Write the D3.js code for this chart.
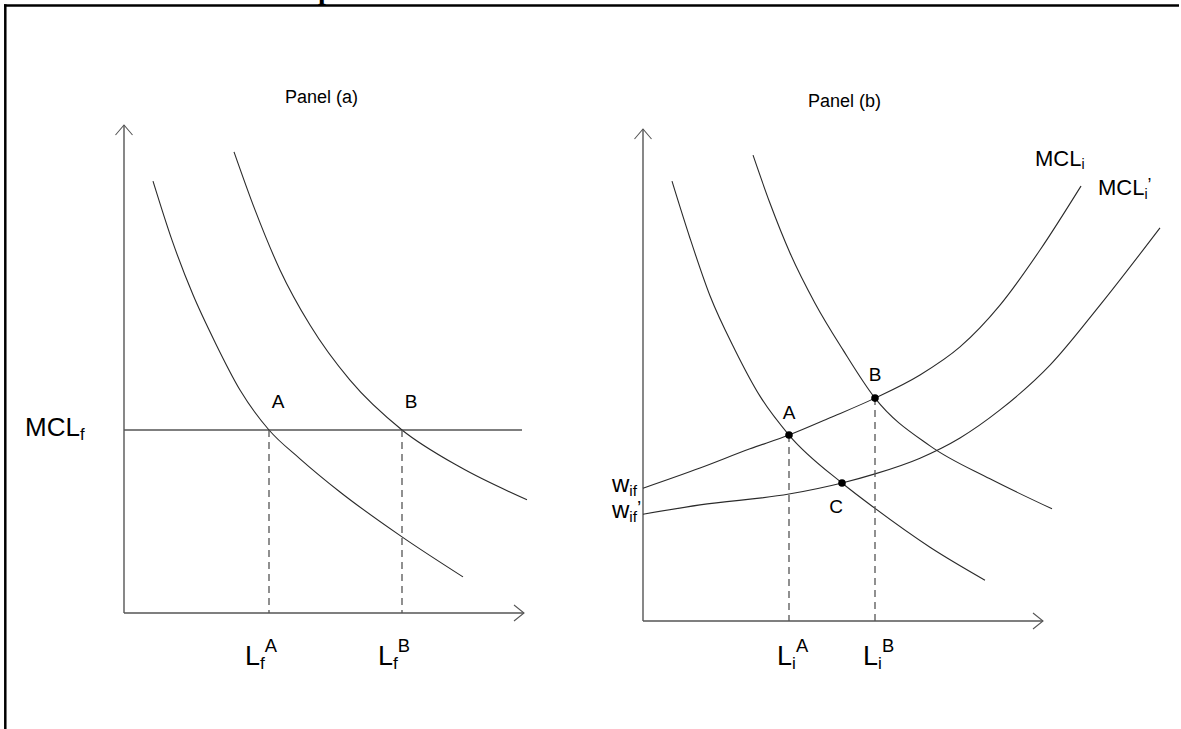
<!DOCTYPE html>
<html>
<head>
<meta charset="utf-8">
<script src="https://cdn.jsdelivr.net/npm/d3@7"></script>
<style>
  html, body { margin: 0; padding: 0; background: #fff; }
  svg { display: block; font-family: "Liberation Sans", Arial, sans-serif; }
</style>
</head>
<body>
<svg id="chart" width="1181" height="729"></svg>
<script>
// ---------------- data (abstract units, 0..100 on each axis) ----------------
const panelTitles = ["Panel (a)", "Panel (b)"];

// Panel (a): two labour-demand curves and a flat marginal cost of labour
const demandA1 = [[7.25,88.5],[12,76.4],[17.25,65.2],[22.75,55.5],[29,45.7],[36.25,37.5],[44,31.6],[54,24.8],[69.5,15.6],[84.75,7.4]];
const demandA2 = [[27.5,94.5],[32.75,82.6],[39,70.3],[46.5,59.0],[56.5,47.7],[69.5,37.5],[84,29.9],[100.75,23.2]];
const mclfLevel = 37.5;
const mclfEndX = 99.5;
const pointsA = [{name:"A", x:36.25}, {name:"B", x:69.5}];
const tickLabelsA = [{base:"L", sub:"f", sup:"A", x:36.25}, {base:"L", sub:"f", sup:"B", x:69.5}];

// Panel (b): two demand curves and two upward-sloping MCL curves
const demandB1 = [[7.25,89.4],[11.75,77.8],[16.75,66.1],[23,55.1],[29.25,45.7],[36.5,37.8],[49.75,28.05],[58,22.9],[71.75,15.0],[85.5,8.3]];
const demandB2 = [[27.5,94.7],[31.75,84.9],[36.75,74.8],[43,64.6],[50,55.1],[58,45.3],[71.75,35.6],[86.75,28.9],[102.25,22.8]];
const mcli  = [[0,27.0],[14.25,31.1],[26.75,35.0],[36.5,37.8],[46.75,41.3],[58,45.3],[69.25,50.0],[79.25,55.7],[89.25,64.2],[99.25,75.4],[109.5,88.4]];
const mcliP = [[0,21.7],[14.25,23.6],[36.5,25.8],[49.75,28.05],[58,29.9],[69.25,33.1],[79.25,37.2],[89.25,42.9],[101.75,52.0],[114.25,64.2],[129.25,79.9]];
const pointsB = [{name:"A", x:36.5, y:37.8}, {name:"B", x:58, y:45.3}, {name:"C", x:49.75, y:28.05}];
const tickLabelsB = [{base:"L", sub:"i", sup:"A", x:36.5}, {base:"L", sub:"i", sup:"B", x:58}];
const curveLabelsB = [{base:"MCL", sub:"i", prime:"", x:98, y:92.5}, {base:"MCL", sub:"i", prime:"’", x:113.75, y:86.5}];
const wageLabelsB = [{base:"w", sub:"if", prime:"", y:27.0}, {base:"w", sub:"if", prime:"’", y:21.7}];

// ---------------- scales ----------------
const xA = d3.scaleLinear().domain([0,100]).range([124,524]);
const yA = d3.scaleLinear().domain([0,100]).range([613,125]);
const xB = d3.scaleLinear().domain([0,100]).range([643,1043]);
const yB = d3.scaleLinear().domain([0,100]).range([621,129]);

const svg = d3.select("#chart");
svg.append("rect").attr("width",1181).attr("height",729).attr("fill","#fff");

// page frame (top and left rules) and a clipped title glyph above
svg.append("text").attr("x",318).attr("y",-1)
  .attr("font-family","'Liberation Serif', 'Times New Roman', serif")
  .attr("font-weight","bold").attr("font-size",28).attr("fill","#000").text("p");
svg.append("line").attr("x1",4).attr("x2",1179).attr("y1",5.5).attr("y2",5.5)
  .attr("stroke","#000").attr("stroke-width",2.5);
svg.append("line").attr("x1",5.3).attr("x2",5.3).attr("y1",4.3).attr("y2",729)
  .attr("stroke","#000").attr("stroke-width",2.5);

const curveColor = "#2a2a2a";
const axisColor = "#555";

function drawAxes(g, x, y) {
  const x0 = x(0), y0 = y(0), xt = x(100), yt = y(100);
  g.append("line").attr("x1",x0).attr("x2",x0).attr("y1",y0).attr("y2",yt)
    .attr("stroke",axisColor).attr("stroke-width",1.4);
  g.append("line").attr("x1",x0).attr("x2",xt).attr("y1",y0).attr("y2",y0)
    .attr("stroke",axisColor).attr("stroke-width",1.4);
  g.append("path").attr("d",`M${x0-8.5},${yt+10}L${x0},${yt}L${x0+8.5},${yt+10}`)
    .attr("fill","none").attr("stroke",axisColor).attr("stroke-width",1.1);
  g.append("path").attr("d",`M${xt-10},${y0-8}L${xt},${y0}L${xt-10},${y0+8}`)
    .attr("fill","none").attr("stroke",axisColor).attr("stroke-width",1.1);
}

function drawCurve(g, data, x, y) {
  const line = d3.line().x(d => x(d[0])).y(d => y(d[1])).curve(d3.curveMonotoneX);
  g.append("path").datum(data).attr("d", line)
    .attr("fill","none").attr("stroke",curveColor).attr("stroke-width",1.1);
}

function subLabel(g, px, py, base, sub, sup, prime, size) {
  const t = g.append("text").attr("x",px).attr("y",py).attr("font-size",size).attr("fill","#000");
  t.append("tspan").text(base);
  t.append("tspan").attr("font-size",size*0.64).attr("dy",size*0.16).text(sub);
  if (sup) t.append("tspan").attr("font-size",size*0.68).attr("dy",-size*0.64).text(sup);
  if (prime) t.append("tspan").attr("font-size",size*0.8).attr("dy",-size*0.35).text(prime);
  return t;
}

// ---------------- Panel (a) ----------------
const gA = svg.append("g");
gA.append("text").attr("x",285).attr("y",103).attr("font-size",18).text(panelTitles[0]);
drawAxes(gA, xA, yA);
gA.append("line").attr("x1",xA(0)).attr("x2",xA(mclfEndX)).attr("y1",yA(mclfLevel)).attr("y2",yA(mclfLevel))
  .attr("stroke",axisColor).attr("stroke-width",1.3);
drawCurve(gA, demandA1, xA, yA);
drawCurve(gA, demandA2, xA, yA);
gA.selectAll("line.dropA").data(pointsA).enter().append("line").attr("class","dropA")
  .attr("x1",d=>xA(d.x)).attr("x2",d=>xA(d.x)).attr("y1",yA(mclfLevel)).attr("y2",yA(0))
  .attr("stroke",axisColor).attr("stroke-width",1.3).attr("stroke-dasharray","7,5");
gA.selectAll("text.ptA").data(pointsA).enter().append("text").attr("class","ptA")
  .attr("x",d=>xA(d.x)+9).attr("y",yA(mclfLevel)-22).attr("text-anchor","middle")
  .attr("font-size",19).text(d=>d.name);
subLabel(gA, 25, 436, "MCL", "f", "", "", 26);
tickLabelsA.forEach(d => subLabel(gA, xA(d.x)-24, 665, d.base, d.sub, d.sup, "", 27));

// ---------------- Panel (b) ----------------
const gB = svg.append("g");
gB.append("text").attr("x",808).attr("y",107).attr("font-size",18).text(panelTitles[1]);
drawAxes(gB, xB, yB);
drawCurve(gB, demandB1, xB, yB);
drawCurve(gB, demandB2, xB, yB);
drawCurve(gB, mcli, xB, yB);
drawCurve(gB, mcliP, xB, yB);
gB.selectAll("line.dropB").data(pointsB.filter(d=>d.name!=="C")).enter().append("line").attr("class","dropB")
  .attr("x1",d=>xB(d.x)).attr("x2",d=>xB(d.x)).attr("y1",d=>yB(d.y)).attr("y2",yB(0))
  .attr("stroke",axisColor).attr("stroke-width",1.3).attr("stroke-dasharray","7,5");
gB.selectAll("circle.ptB").data(pointsB).enter().append("circle").attr("class","ptB")
  .attr("cx",d=>xB(d.x)).attr("cy",d=>yB(d.y)).attr("r",3.8).attr("fill","#000");
const ptOffsets = {A:[0,-16], B:[0,-17], C:[-6,30]};
gB.selectAll("text.ptB").data(pointsB).enter().append("text").attr("class","ptB")
  .attr("x",d=>xB(d.x)+ptOffsets[d.name][0]).attr("y",d=>yB(d.y)+ptOffsets[d.name][1])
  .attr("text-anchor","middle").attr("font-size",19).text(d=>d.name);
tickLabelsB.forEach(d => subLabel(gB, xB(d.x)-12, 665, d.base, d.sub, d.sup, "", 27));
curveLabelsB.forEach(d => subLabel(gB, xB(d.x), yB(d.y), d.base, d.sub, "", d.prime, 22));
wageLabelsB.forEach(d => subLabel(gB, 612, yB(d.y)+4, d.base, d.sub, "", d.prime, 24));
</script>
</body>
</html>
